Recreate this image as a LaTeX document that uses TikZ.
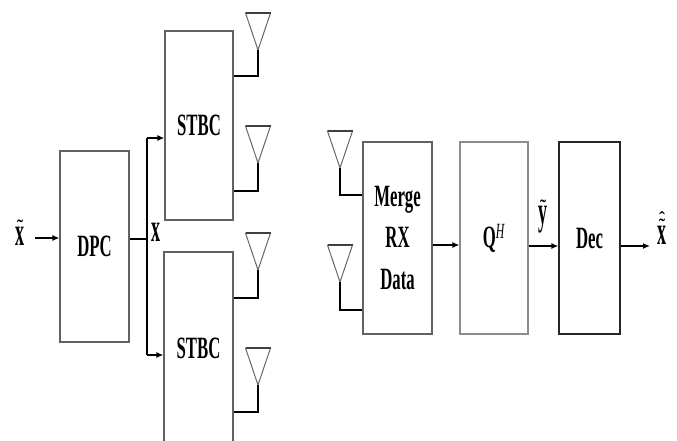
\documentclass[tikz,border=0pt]{standalone}
\usepackage{fontspec}
\usepackage{graphicx}
\setmainfont{Liberation Serif}
\newfontfamily\cf[FakeStretch=0.54]{Liberation Serif}
\usetikzlibrary{arrows.meta}
\newcommand\lbl[1]{\scalebox{0.9}[2.0]{\fontsize{20}{24}\selectfont$#1$}}
\newcommand\acc[1]{\raisebox{-10pt}[3pt][0pt]{\fontsize{18}{18}\selectfont\bfseries #1}}
\begin{document}
\begin{tikzpicture}[x=1pt,y=-1pt,
  blk/.style={draw=black!62, line width=1.3pt, inner sep=0pt, align=center, text=black,
    font=\cf\bfseries\fontsize{31}{41}\selectfont},
  arr/.style={line width=1.3pt, -{Latex[length=7pt,width=6pt]}},
  wire/.style={line width=1.3pt},
  stemv/.style={line width=1.4pt},
  stemh/.style={line width=2.8pt},
  lab/.style={inner sep=0pt},
  accn/.style={inner sep=0pt, anchor=south},
  ant/.pic={\draw[draw=black!60, line width=1pt] (-12.5,-37) -- (12.5,-37) -- (0,0) -- cycle;
            \draw[draw=black!75, line width=1.4pt] (-12.5,-37) -- (12.5,-37);}
]
\useasboundingbox (0,0) rectangle (677,441);

% blocks
\node[blk, minimum width=69pt, minimum height=191pt] (dpc) at (94.5,246.5) {DPC};
\node[blk, minimum width=68pt, minimum height=189pt] (s1) at (199,125.5) {STBC};
\node[blk, minimum width=69pt, minimum height=192pt] (s2) at (198.5,348) {STBC};
\node[blk, minimum width=69pt, minimum height=192pt] (mrg) at (397.5,238) {Merge\\RX\\Data};
\node[blk, draw=black!45, minimum width=68pt, minimum height=192pt] (q) at (494,238) {Q\textsuperscript{\mdseries\textit{H}}};
\node[blk, draw=black!85, minimum width=61pt, minimum height=192pt] (dec) at (589.5,238) {Dec};

% labels
\node[lab] (xin) at (20,236) {\lbl{\mathbf{x}}};
\node[accn] (xint) at ([yshift=4pt]xin.north) {\acc{˜}};
\node[lab] (xm) at (156,232) {\lbl{\mathbf{x}}};
\node[lab] (yt) at (543,220) {\lbl{\mathbf{y}}};
\node[accn] (ytt) at ([yshift=4pt]yt.north) {\acc{˜}};
\node[lab] (xout) at (662,235) {\lbl{\mathbf{x}}};
\node[accn] (xoutt) at ([yshift=4pt]xout.north) {\acc{˜}};
\node[accn] (xouth) at ([yshift=4pt]xoutt.north) {\acc{ˆ}};

% input and DPC output
\coordinate (in0) at (35,238);
\draw[arr] (in0) -- (dpc.west |- in0);
\coordinate (jn) at (147,239);
\coordinate (jt) at (147,138);
\coordinate (jb) at (147,355);
\draw[wire] (dpc.east |- jn) -- (jn);
\draw[wire] (jt) -- (jb);
\draw[arr] (jt) -- (s1.west |- jt);
\draw[arr] (jb) -- (s2.west |- jb);

% receiver chain
\coordinate (m1) at (432,245);
\draw[arr] (mrg.east |- m1) -- (q.west |- m1);
\coordinate (m2) at (528,246);
\draw[arr] (q.east |- m2) -- (dec.west |- m2);
\coordinate (m3) at (650,246);
\draw[arr] (dec.east |- m3) -- (m3);

% transmit antennas
\foreach \n/\ay/\sy/\bx in {a1/50/76/s1, a2/163/191/s1, a3/270/298/s2, a4/385/412/s2} {
  \pic at (258,\ay) {ant};
  \coordinate (\n) at (258,\ay);
  \coordinate (\n b) at (258,\sy);
  \draw[stemv] (\n) -- (\n b);
  \draw[stemh] ([xshift=0.7pt]\n b) -- (\bx.east |- \n b);
}

% receive antennas
\foreach \n/\ay/\sy in {r1/168/195, r2/282/310} {
  \pic at (340,\ay) {ant};
  \coordinate (\n) at (340,\ay);
  \coordinate (\n b) at (340,\sy);
  \draw[stemv] (\n) -- (\n b);
  \draw[stemh] ([xshift=-0.7pt]\n b) -- (mrg.west |- \n b);
}
\end{tikzpicture}
\end{document}
